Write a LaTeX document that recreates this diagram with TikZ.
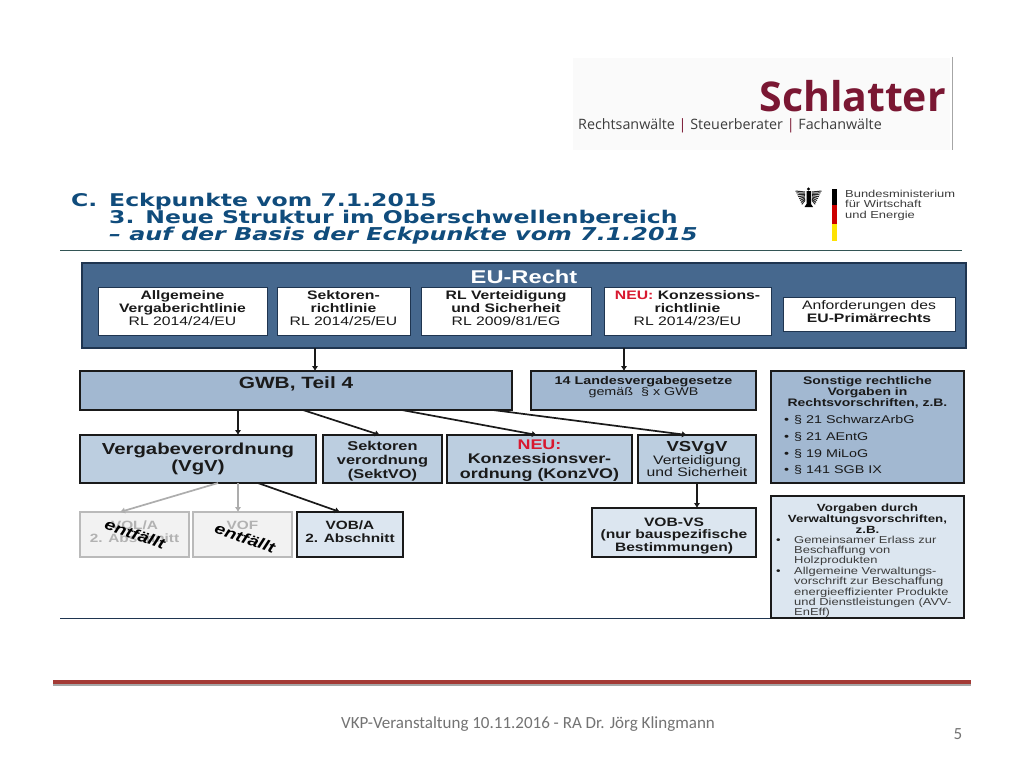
\documentclass[tikz,border=0pt]{standalone}
\usepackage{fontspec}
\setmainfont{Liberation Sans}
\newfontfamily\wide[FakeStretch=1.28]{Liberation Sans}
\newfontfamily\ttl[FakeStretch=1.345]{DejaVu Sans}
\newfontfamily\logofont{Open Sans}
\newfontfamily\foot{Carlito}
\usetikzlibrary{calc,arrows.meta}
\definecolor{eublue}{HTML}{46688E}
\definecolor{euedge}{HTML}{1F3550}
\definecolor{midblue}{HTML}{A2B8D1}
\definecolor{softblue}{HTML}{BCCEE0}
\definecolor{paleblue}{HTML}{DCE6F0}
\definecolor{titleblue}{HTML}{104C7C}
\definecolor{wine}{HTML}{7A1733}
\definecolor{barred}{HTML}{A33A35}
\definecolor{ink}{HTML}{1A1A1A}
\definecolor{soft}{HTML}{3C3C3C}
\definecolor{neu}{HTML}{D8182F}
\newcommand{\fz}[2]{\fontsize{#1}{#2}\selectfont}
\newcommand{\padtop}[1]{\rule{0pt}{#1pt}}
\newcommand{\padlow}[1]{\rule[-#1pt]{0pt}{0pt}}
\tikzset{
 x=1pt,y=-1pt,
 sized/.style 2 args={minimum width=#1pt,minimum height=#2pt},
 pbox/.style={draw=ink,line width=1.4pt,outer sep=0pt,anchor=north west,align=center,inner sep=0pt,text=ink,font=\wide},
 whitebox/.style={pbox,fill=white,draw=euedge,line width=.7pt,font=\wide\fz{12.3}{12.6}},
 midbox/.style={pbox,fill=midblue},
 softbox/.style={pbox,fill=softblue},
 palebox/.style={pbox,fill=paleblue},
 greybox/.style={pbox,fill=black!5,draw=black!27,text=black!30},
 arr/.style={draw=ink,line width=1.7pt,-{Latex[length=5pt,width=6.5pt]}},
 grayarr/.style={draw=black!32,line width=1.7pt,-{Latex[length=5pt,width=6.5pt]}},
 plain/.style={inner sep=0pt,align=left,text=ink,font=\wide},
 gone/.style={inner sep=0pt,text=black,rotate=-19,font=\wide\bfseries\itshape\fz{15}{16}},
 titleline/.style={inner sep=0pt,anchor=base west,text=titleblue,font=\ttl\bfseries\fz{17.5}{18}},
}
\begin{document}
\begin{tikzpicture}
\useasboundingbox (0,0) rectangle (1024,768);
\fill[white] (0,0) rectangle (1024,768);
% logo
\fill[black!2] (573,58) rectangle (950,150);
\draw[black!35,line width=.8pt] (952,57) -- (952,150);
\node[inner sep=0pt,anchor=base east,text=wine,font=\logofont\bfseries\fz{41}{42}] (schl) at (946,111) {Schlatter};
\node[inner sep=0pt,anchor=base west,text=soft,font=\logofont\fz{14.3}{15}] (sub) at (578,129) {Rechtsanwälte {\color{wine}|} Steuerberater {\color{wine}|} Fachanwälte};
% title
\node[titleline] (tc) at (71,206) {C.};
\node[titleline] (t1) at (109,206) {Eckpunkte vom 7.1.2015};
\node[titleline] (t2) at (109,223) {3. Neue Struktur im Oberschwellenbereich};
\node[titleline,font=\ttl\bfseries\itshape\fz{17.7}{18}] (t3) at (109,240) {– auf der Basis der Eckpunkte vom 7.1.2015};
\draw[black!55!teal!60!gray,line width=1pt] (60,250) -- (962,250);
\draw[euedge,line width=1pt] (60,618.5) -- (964,618.5);
% ministry
\fill[black] (832,189) rectangle (837,205);
\fill[red!80!black] (832,205) rectangle (837,224);
\fill[yellow!85!orange] (832,224) rectangle (837,241);
\fill[black] (808.5,189) circle (1.6);
\fill[black] (806.5,191) -- (811,191) -- (811,204) -- (813,207) -- (804.5,207) -- (806.5,204) -- cycle;
\foreach \q in {0,1,...,7}{
 \draw[black!85,line width=1pt] (805,{192+\q*1.2}) -- ({795.5+\q*.9},{191+\q*1.9});
 \draw[black!85,line width=1pt] (812,{192+\q*1.2}) -- ({821.5-\q*.9},{191+\q*1.9});
}
\node[inner sep=0pt,anchor=north west,align=left,text=soft,font=\wide\fz{10.1}{10.5}] (bm) at (845,189.5) {Bundesministerium\\für Wirtschaft\\und Energie};
% EU
\node[pbox,fill=eublue,draw=euedge,sized={884}{85}] (eu) at (82,263) {};
\node[inner sep=0pt,text=white,font=\wide\bfseries\fz{18.5}{19}] (eut) at (524,277) {EU-Recht};
\node[whitebox,sized={169}{48}] (a1) at (98,287) {\textbf{Allgemeine}\\\textbf{Vergaberichtlinie}\\RL 2014/24/EU\padlow{6}};
\node[whitebox,sized={133}{48}] (a2) at (277,287) {\textbf{Sektoren-}\\\textbf{richtlinie}\\RL 2014/25/EU\padlow{6}};
\node[whitebox,sized={170}{48}] (a3) at (421,287) {\textbf{RL Verteidigung}\\\textbf{und Sicherheit}\\RL 2009/81/EG\padlow{6}};
\node[whitebox,sized={167}{48}] (a4) at (604,287) {\textbf{{\color{neu}NEU:} Konzessions-}\\\textbf{richtlinie}\\RL 2014/23/EU\padlow{6}};
\node[whitebox,sized={172}{34},font=\wide\fz{12.3}{12.4}] (a5) at (783,297) {Anforderungen des\\\textbf{EU-Primärrechts}\padlow{5}};
% second row
\node[midbox,sized={432}{39}] (gwb) at (80,371) {};
\node[inner sep=0pt,text=ink,font=\wide\bfseries\fz{16.3}{17}] (gwbt) at (296,384) {GWB, Teil 4};
\node[midbox,sized={225}{39}] (land) at (531,371) {};
\node[inner sep=0pt,align=center,text=ink,font=\wide\fz{11.2}{11.5}] (landt) at (643.5,387) {\textbf{14 Landesvergabegesetze}\\gemäß \ § x GWB};
\node[midbox,sized={193}{112}] (sonst) at (771,371) {};
\node[inner sep=0pt,align=center,text=ink,font=\wide\bfseries\fz{10.9}{11}] (sonstt) at (867.5,392) {Sonstige rechtliche\\Vorgaben in\\Rechtsvorschriften, z.B.};
\node[plain,anchor=north west,font=\wide\fz{11.2}{16.6}] (sonstl) at (784,415.5) {\makebox[10pt][l]{•}§ 21 SchwarzArbG\\\makebox[10pt][l]{•}§ 21 AEntG\\\makebox[10pt][l]{•}§ 19 MiLoG\\\makebox[10pt][l]{•}§ 141 SGB IX};
% third row
\node[softbox,sized={236}{48},font=\wide\bfseries\fz{15.9}{17}] (vgv) at (80,435) {Vergabeverordnung\\(VgV)};
\node[softbox,sized={119}{48},font=\wide\bfseries\fz{12.8}{14.3}] (sekt) at (323,435) {\padtop{14}Sektoren\\verordnung\\(SektVO)};
\node[softbox,sized={185}{48},font=\wide\bfseries\fz{14}{14.5}] (konz) at (447,435) {\padtop{12}{\color{neu}NEU:}\\Konzessionsver-\\ordnung (KonzVO)};
\node[softbox,sized={118}{48},font=\wide\fz{12.3}{12.5}] (vsv) at (638,435) {{\fontsize{14.5}{15}\selectfont\textbf{VSVgV}}\\Verteidigung\\und Sicherheit};
% fourth row
\node[greybox,sized={109}{45},font=\wide\bfseries\fz{12}{13}] (vol) at (80,512) {VOL/A\\2. Abschnitt\padlow{6}};
\node[greybox,sized={99}{45},font=\wide\bfseries\fz{12}{13}] (vof) at (193,512) {VOF\\\mbox{}\padlow{6}};
\node[palebox,sized={106}{45},font=\wide\bfseries\fz{12}{13}] (vob) at (297,512) {VOB/A\\2. Abschnitt\padlow{6}};
\node[palebox,sized={164}{49},font=\wide\bfseries\fz{12.2}{12.7}] (vobvs) at (592,508) {\padtop{15}VOB-VS\\(nur bauspezifische\\Bestimmungen)};
\node[palebox,sized={193}{122}] (vorg) at (771,496) {};
\node[inner sep=0pt,align=center,text=ink,font=\wide\bfseries\fz{10.4}{10.8}] (vorgt) at (867.5,519) {Vorgaben durch\\Verwaltungsvorschriften,\\z.B.};
\node[plain,anchor=north west,text=soft,font=\wide\fz{10.1}{10.4}] (vorgl) at (776,535.5) {\makebox[18pt][l]{\textcolor{ink}{•}}Gemeinsamer Erlass zur\\\hspace*{18pt}Beschaffung von\\\hspace*{18pt}Holzprodukten\\\makebox[18pt][l]{\textcolor{ink}{•}}Allgemeine Verwaltungs-\\\hspace*{18pt}vorschrift zur Beschaffung\\\hspace*{18pt}energieeffizienter Produkte\\\hspace*{18pt}und Dienstleistungen (AVV-\\\hspace*{18pt}EnEff)};
\node[gone] (g1) at (135,534) {entfällt};
\node[gone] (g2) at (245,538) {entfällt};
% connectors
\newcommand{\link}[5]{\draw[#1] ($(#2.south west)!#3!(#2.south east)$) -- ($(#4.north west)!#5!(#4.north east)$);}
\link{arr}{eu}{.2636}{gwb}{.544}
\link{arr}{eu}{.6131}{land}{.4133}
\link{arr}{gwb}{.3657}{vgv}{.6695}
\link{arr}{gwb}{.516}{sekt}{.479}
\link{arr}{gwb}{.745}{konz}{.486}
\link{arr}{gwb}{.956}{vsv}{.415}
\link{grayarr}{vgv}{.585}{vol}{.367}
\link{grayarr}{vgv}{.6695}{vof}{.4545}
\link{arr}{vgv}{.754}{vob}{.406}
\link{arr}{vsv}{.5}{vobvs}{.64}
% footer
\draw[black!35,line width=2pt] (53,684.5) -- (971,684.5);
\draw[barred,line width=3.2pt] (53,682) -- (971,682);
\node[inner sep=0pt,anchor=base,text=black!55,font=\foot\fz{17}{18}] (ft) at (528,728) {VKP-Veranstaltung 10.11.2016 - RA Dr. Jörg Klingmann};
\node[inner sep=0pt,anchor=base,text=black!55,font=\foot\fz{17}{18}] (pg) at (958,739) {5};
\end{tikzpicture}
\end{document}
